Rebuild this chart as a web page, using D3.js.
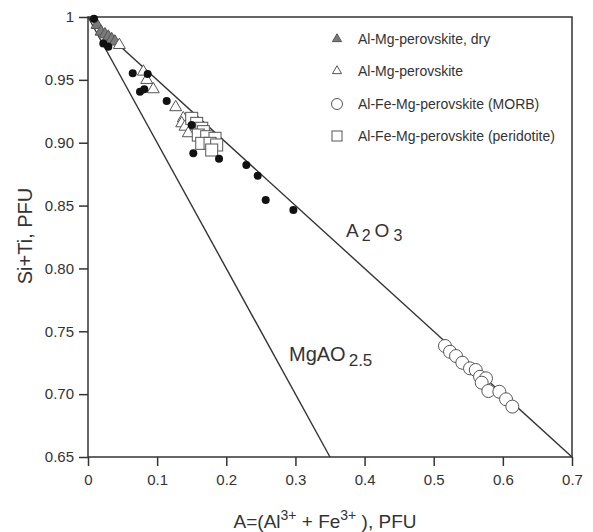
<!DOCTYPE html>
<html>
<head>
<meta charset="utf-8">
<script src="https://cdn.jsdelivr.net/npm/d3@7"></script>
<style>
body { margin: 0; background: #fff; }
svg text { font-family: "Liberation Sans", Arial, sans-serif; fill: #333; }
</style>
</head>
<body>
<div id="chart-area"></div>
<script>
// data: [A, Si+Ti]
var dryTri = [[0.013,0.9936],[0.0188,0.9883],[0.0246,0.9862],[0.0294,0.9843],[0.0343,0.9823],[0.039,0.9804]];
var openTri = [[0.0453,0.9777],[0.080,0.9565],[0.0849,0.9499],[0.0944,0.9425],[0.1268,0.9282],
               [0.1378,0.9194],[0.1355,0.9154],[0.1403,0.9127],[0.1451,0.9075]];
var morb = [[0.5163,0.7383],[0.5236,0.7337],[0.5323,0.7303],[0.5414,0.725],[0.5525,0.7205],[0.5608,0.7192],
            [0.567,0.7138],[0.5756,0.7126],[0.5694,0.7091],[0.579,0.7025],[0.5949,0.7019],[0.6046,0.6959],[0.6137,0.6901]];
var perid = [[0.150,0.9194],[0.1572,0.9154],[0.1645,0.9115],[0.1668,0.9088],[0.1595,0.9061],[0.1717,0.9048],
             [0.1837,0.9035],[0.1645,0.8995],[0.1765,0.8995],[0.1861,0.8982],[0.1789,0.8942]];
var blackDots = [[0.0087,0.9986],[0.0221,0.979],[0.0294,0.9764],[0.0647,0.9552],[0.0863,0.9547],[0.0752,0.9406],
                 [0.0814,0.9425],[0.1138,0.9332],[0.150,0.914],[0.1523,0.8916],[0.1895,0.8873],[0.229,0.8823],
                 [0.2454,0.8737],[0.257,0.8544],[0.297,0.8465]];
// reference lines: Si+Ti = 1 - A/2 (A2O3) and Si+Ti = 1 - A (MgAO2.5)
var lineA2O3 = [[0,1],[0.7,0.65]];
var lineMgAO = [[0,1],[0.35,0.65]];
var xTicks = [0,0.1,0.2,0.3,0.4,0.5,0.6,0.7];
var yTicks = [0.65,0.70,0.75,0.80,0.85,0.90,0.95,1];
var legendNames = ["Al-Mg-perovskite, dry","Al-Mg-perovskite","Al-Fe-Mg-perovskite (MORB)","Al-Fe-Mg-perovskite (peridotite)"];

var W = 593, H = 532;
var svg = d3.select("#chart-area").append("svg")
    .attr("width", W)
    .attr("height", H);

var x = d3.scaleLinear().domain([0,0.7]).range([88,572]);
var y = d3.scaleLinear().domain([0.65,1]).range([457,17]);

var ink = "#333";

// axes
var xAxis = d3.axisBottom(x).tickValues(xTicks).tickSize(9).tickPadding(8)
    .tickFormat(function(d){ return d === 0 ? "0" : d3.format(".1f")(d); });
var yAxis = d3.axisLeft(y).tickValues(yTicks).tickSize(9).tickPadding(5)
    .tickFormat(function(d){ return d === 1 ? "1" : d3.format(".2f")(d); });

var gx = svg.append("g").attr("transform","translate(0,457)").call(xAxis);
var gy = svg.append("g").attr("transform","translate(88,0)").call(yAxis);
[gx, gy].forEach(function(g){
    g.select(".domain").remove();
    g.selectAll("line").attr("stroke", ink).attr("stroke-width", 1.5);
    g.selectAll("text").style("font-size","15px").attr("fill","#444");
});

// frame
svg.append("rect")
    .attr("x", x(0)).attr("y", y(1))
    .attr("width", x(0.7) - x(0)).attr("height", y(0.65) - y(1))
    .attr("fill","none").attr("stroke", ink).attr("stroke-width", 1.5);

// lines
var line = d3.line().x(function(d){ return x(d[0]); }).y(function(d){ return y(d[1]); });
[lineA2O3, lineMgAO].forEach(function(l){
    svg.append("path").datum(l).attr("d", line)
        .attr("fill","none").attr("stroke", ink).attr("stroke-width", 1.4);
});

// line labels
var t1 = svg.append("text").attr("x", 346).attr("y", 237).style("font-size","19px");
t1.append("tspan").text("A");
t1.append("tspan").attr("dx", 3).attr("dy", 4).style("font-size","16px").text("2");
t1.append("tspan").attr("dx", 4).attr("dy", -4).text("O");
t1.append("tspan").attr("dx", 4).attr("dy", 4).style("font-size","16px").text("3");

var t2 = svg.append("text").attr("x", 289).attr("y", 361).style("font-size","20px");
t2.append("tspan").text("MgAO");
t2.append("tspan").attr("dx", 3).attr("dy", 5).style("font-size","17px").text("2.5");

// axis titles
var xt = svg.append("text").attr("x", 325).attr("y", 528).attr("text-anchor","middle").style("font-size","19px");
xt.append("tspan").text("A=(Al");
xt.append("tspan").attr("dy", -8).style("font-size","14px").text("3+");
xt.append("tspan").attr("dy", 8).text(" + Fe");
xt.append("tspan").attr("dy", -8).style("font-size","14px").text("3+");
xt.append("tspan").attr("dy", 8).text(" ), PFU");

svg.append("text")
    .attr("transform","translate(32,236) rotate(-90)")
    .attr("text-anchor","middle")
    .style("font-size","20px")
    .text("Si+Ti, PFU");

// markers
var triPath = d3.symbol().type(d3.symbolTriangle).size(62);
var stroke = "#555";

svg.append("g").selectAll("path").data(dryTri).join("path")
    .attr("d", triPath)
    .attr("transform", function(d){ return "translate(" + x(d[0]) + "," + y(d[1]) + ")"; })
    .attr("fill","#7a7a7a").attr("stroke", stroke).attr("stroke-width", 1);

svg.append("g").selectAll("path").data(openTri).join("path")
    .attr("d", triPath)
    .attr("transform", function(d){ return "translate(" + x(d[0]) + "," + y(d[1]) + ")"; })
    .attr("fill","#fff").attr("stroke", stroke).attr("stroke-width", 1);

svg.append("g").selectAll("rect").data(perid).join("rect")
    .attr("x", function(d){ return x(d[0]) - 6; })
    .attr("y", function(d){ return y(d[1]) - 6; })
    .attr("width", 12).attr("height", 12)
    .attr("fill","#fff").attr("stroke", stroke).attr("stroke-width", 1);

svg.append("g").selectAll("circle").data(morb).join("circle")
    .attr("cx", function(d){ return x(d[0]); })
    .attr("cy", function(d){ return y(d[1]); })
    .attr("r", 6.5)
    .attr("fill","#fff").attr("stroke", stroke).attr("stroke-width", 1);

svg.append("g").selectAll("circle").data(blackDots).join("circle")
    .attr("cx", function(d){ return x(d[0]); })
    .attr("cy", function(d){ return y(d[1]); })
    .attr("r", 4)
    .attr("fill","#111");

// legend
var legY = [39, 71, 104, 136];
var leg = svg.append("g");
legendNames.forEach(function(name, i){
    var cx = 337, cy = legY[i];
    if (i === 0) {
        leg.append("path").attr("d", d3.symbol().type(d3.symbolTriangle).size(36))
            .attr("transform","translate(" + cx + "," + cy + ")")
            .attr("fill","#7a7a7a").attr("stroke", stroke);
    } else if (i === 1) {
        leg.append("path").attr("d", d3.symbol().type(d3.symbolTriangle).size(36))
            .attr("transform","translate(" + cx + "," + cy + ")")
            .attr("fill","#fff").attr("stroke", stroke);
    } else if (i === 2) {
        leg.append("circle").attr("cx", cx).attr("cy", cy).attr("r", 5.5)
            .attr("fill","#fff").attr("stroke", stroke);
    } else {
        leg.append("rect").attr("x", cx - 5).attr("y", cy - 5).attr("width", 10).attr("height", 10)
            .attr("fill","#fff").attr("stroke", stroke);
    }
    leg.append("text").attr("x", 358).attr("y", cy + 5)
        .style("font-size","14px").attr("fill","#444").text(name);
});
</script>
</body>
</html>
